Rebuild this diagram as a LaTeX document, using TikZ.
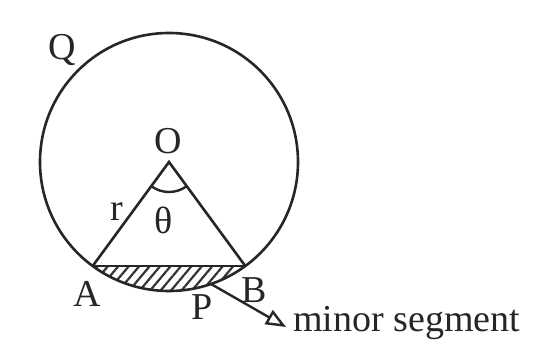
\documentclass[tikz,border=0pt]{standalone}
\usepackage{fontspec}
\setmainfont{Liberation Serif}
\usetikzlibrary{patterns.meta,arrows.meta}
\begin{document}
\begin{tikzpicture}[x=1pt,y=1pt,
  stroke/.style={line width=2.6pt, draw=black!85},
  lbl/.style={font=\fontsize{38}{40}\selectfont, text=black!85, inner sep=0pt},
  hatch/.style={pattern={Lines[angle=50,distance=8pt,line width=2.2pt]}, pattern color=black!80}]
\useasboundingbox (0,0) rectangle (558,345);
\fill[white] (0,0) rectangle (558,345);
\coordinate (O) at (169,183);
\coordinate (A) at (92.7,79);
\coordinate (B) at (245.3,79);
% hatched minor segment
\begin{scope}
  \clip (O) circle[radius=129];
  \fill[hatch] (30,79) rectangle (310,40);
\end{scope}
\draw[stroke] (O) circle[radius=129];
\draw[stroke, line join=miter] (A) -- (O) -- (B);
\draw[stroke] (A) -- (B);
\draw[line width=2.4pt, draw=black!85] (O) ++(233.7:30) arc[start angle=233.7, end angle=306.3, radius=30];
% labels
\node[lbl] (Q) at (62,295) {Q};
\node[lbl] (Ol) at (168,204) {O};
\node[lbl] (r) at (117,133) {r};
\node[lbl] (th) at (164,125) {θ};
\node[lbl] (Al) at (87,51) {A};
\node[lbl] (Bl) at (254,55) {B};
\node[lbl] (Pl) at (202,38) {P};
\node[lbl, anchor=base west] (ms) at (293,13) {minor segment};
\coordinate (p0) at (211,61);
\coordinate (pe) at (286,18);
\draw[line width=2.4pt, draw=black!85, -{Triangle[open,length=20pt,width=16pt]}] (p0) -- (pe);
\end{tikzpicture}
\end{document}
